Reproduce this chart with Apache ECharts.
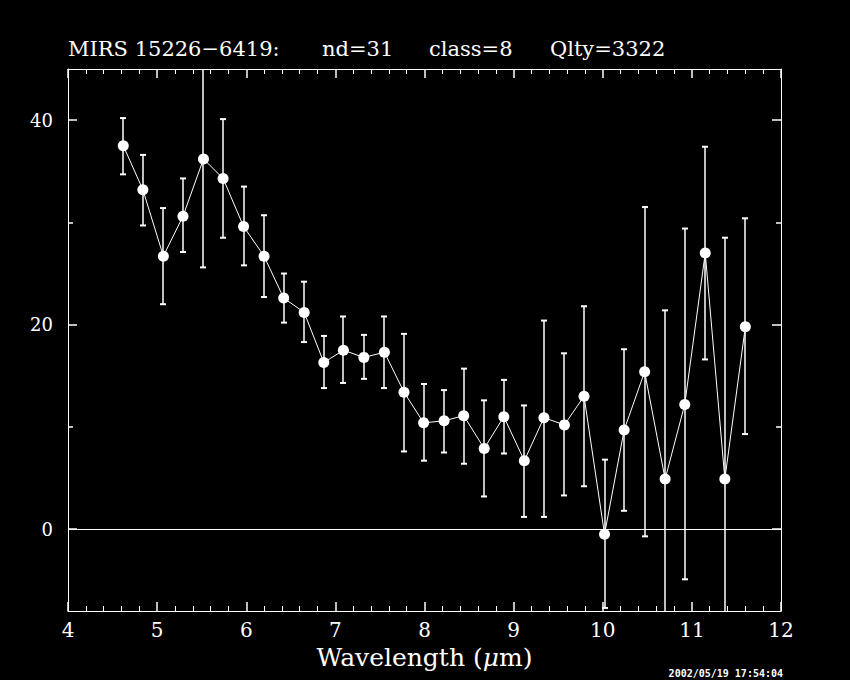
<!DOCTYPE html>
<html>
<head>
<meta charset="utf-8">
<script src="https://cdn.jsdelivr.net/npm/echarts@6/dist/echarts.min.js"></script>
<style>
html,body{margin:0;padding:0;background:#000;}
#chart{width:850px;height:680px;}
</style>
</head>
<body>
<div id="chart"></div>
<script>
// Wavelength (micron) of each point
var wavelength = [4.62, 4.84, 5.07, 5.29, 5.52, 5.74, 5.97, 6.20, 6.42, 6.65, 6.87, 7.09, 7.32, 7.55, 7.77, 7.99,
                  8.22, 8.44, 8.67, 8.89, 9.12, 9.34, 9.57, 9.79, 10.02, 10.24, 10.47, 10.70, 10.92, 11.15, 11.37, 11.60];
// Flux values
var flux = [37.5, 33.2, 26.7, 30.6, 36.2, 34.3, 29.6, 26.7, 22.6, 21.2, 16.3, 17.5, 16.8, 17.3, 13.4, 10.4,
            10.6, 11.1, 7.9, 11.0, 6.7, 10.9, 10.2, 13.0, -0.5, 9.7, 15.4, 4.9, 12.2, 27.0, 4.9, 19.8];
// Error bar upper ends
var errHigh = [40.2, 36.6, 31.4, 34.3, 46.8, 40.1, 33.5, 30.7, 25.0, 24.2, 18.9, 20.8, 19.0, 20.8, 19.1, 14.2,
               13.6, 15.7, 12.6, 14.6, 12.1, 20.4, 17.2, 21.8, 6.8, 17.6, 31.5, 21.4, 29.4, 37.4, 28.5, 30.4];
// Error bar lower ends
var errLow = [34.7, 29.7, 22.0, 27.1, 25.6, 28.5, 25.8, 22.7, 20.2, 18.3, 13.8, 14.3, 14.7, 13.8, 7.6, 6.7,
              7.5, 6.4, 3.2, 7.4, 1.2, 1.2, 3.3, 4.2, -7.7, 1.8, -0.7, -11.6, -4.9, 16.6, -18.7, 9.3];
// Axis tick labels
var xTicks = [4, 5, 6, 7, 8, 9, 10, 11, 12];
var yMajorTicks = [0, 20, 40];
var yMinorTicks = [10, 30];

var titleParts = ['MIRS 15226\u22126419:', 'nd=31', 'class=8', 'Qlty=3322'];
var stampText = '2002/05/19 17:54:04';

var lineData = wavelength.map(function (x, i) { return [x, flux[i]]; });
var errData = wavelength.map(function (x, i) { return [x, errLow[i], errHigh[i]]; });

var chart = echarts.init(document.getElementById('chart'), null, {renderer: 'svg'});
var serif = '"DejaVu Serif", "Liberation Serif", serif';
var WHITE = '#ffffff';

function yAxisDef(pos, ticks, len, showLine, showLabel) {
  return {
    type: 'value', position: pos, min: -8, max: 45, gridIndex: 0,
    axisLine: {show: showLine, onZero: false, lineStyle: {color: WHITE, width: 1}},
    axisTick: {show: true, inside: true, length: len, customValues: ticks, lineStyle: {color: WHITE, width: 1.5}},
    axisLabel: {show: showLabel, customValues: ticks, color: WHITE, fontFamily: serif, fontSize: 18, margin: 15},
    splitLine: {show: false}
  };
}

function xAxisDef(pos, showLabel) {
  return {
    type: 'value', position: pos, min: xTicks[0], max: xTicks[xTicks.length - 1], interval: 1,
    axisLine: {show: true, onZero: false, lineStyle: {color: WHITE, width: 1}},
    axisTick: {show: true, inside: true, length: 9, lineStyle: {color: WHITE, width: 1.5}},
    minorTick: {show: true, splitNumber: 5, length: 5, lineStyle: {color: WHITE, width: 1}},
    axisLabel: {show: showLabel, color: WHITE, fontFamily: serif, fontSize: 20, margin: 9},
    splitLine: {show: false}, minorSplitLine: {show: false}
  };
}

var xBottom = xAxisDef('bottom', true);
xBottom.name = '{a|Wavelength (}{b|\u03bc}{a|m)}';
xBottom.nameLocation = 'middle';
xBottom.nameGap = 34;
xBottom.nameTextStyle = {
  rich: {
    a: {color: WHITE, fontFamily: serif, fontSize: 25},
    b: {color: WHITE, fontFamily: serif, fontSize: 25, fontStyle: 'italic'}
  }
};

var titleX = [68, 322, 429, 550];
var graphics = titleParts.map(function (t, i) {
  return {
    type: 'text', left: titleX[i], top: 38,
    style: {text: t, fill: WHITE, font: '21px ' + serif}
  };
});
graphics.push({
  type: 'text', right: 67, top: 668,
  style: {text: stampText, fill: WHITE, font: 'bold 10px "DejaVu Sans Mono", monospace'}
});

var option = {
  backgroundColor: '#000000',
  animation: false,
  grid: {left: 68, right: 69, top: 69, bottom: 69, containLabel: false},
  xAxis: [xBottom, xAxisDef('top', false)],
  yAxis: [
    yAxisDef('left', yMajorTicks, 9, true, true),
    yAxisDef('right', yMajorTicks, 9, true, false),
    yAxisDef('left', yMinorTicks, 5, false, false),
    yAxisDef('right', yMinorTicks, 5, false, false)
  ],
  graphic: graphics,
  series: [
    {
      type: 'custom', xAxisIndex: 0, yAxisIndex: 0,
      data: errData,
      encode: {x: 0, y: [1, 2]},
      z: 2,
      renderItem: function (params, api) {
        var x = api.value(0), lo = api.value(1), hi = api.value(2);
        var cs = params.coordSys;
        var top = cs.y, bot = cs.y + cs.height;
        var pHi = api.coord([x, hi]), pLo = api.coord([x, lo]);
        var yHi = Math.max(pHi[1], top), yLo = Math.min(pLo[1], bot);
        var cx = Math.round(pHi[0]);
        var children = [{
          type: 'line',
          shape: {x1: cx, y1: yHi, x2: cx, y2: yLo},
          style: {stroke: WHITE, lineWidth: 1.5}
        }];
        if (pHi[1] >= top) {
          children.push({type: 'line', shape: {x1: cx - 3, y1: pHi[1], x2: cx + 3, y2: pHi[1]}, style: {stroke: WHITE, lineWidth: 2}});
        }
        if (pLo[1] <= bot) {
          children.push({type: 'line', shape: {x1: cx - 3, y1: pLo[1], x2: cx + 3, y2: pLo[1]}, style: {stroke: WHITE, lineWidth: 2}});
        }
        return {type: 'group', children: children};
      }
    },
    {
      type: 'line', xAxisIndex: 0, yAxisIndex: 0,
      data: lineData,
      z: 3,
      symbol: 'circle', symbolSize: 11,
      itemStyle: {color: WHITE, borderWidth: 0},
      lineStyle: {color: WHITE, width: 1},
      markLine: {
        silent: true, symbol: ['none', 'none'],
        label: {show: false},
        lineStyle: {color: WHITE, width: 1, type: 'solid'},
        data: [{yAxis: 0}]
      }
    }
  ]
};
chart.setOption(option);
</script>
</body>
</html>
